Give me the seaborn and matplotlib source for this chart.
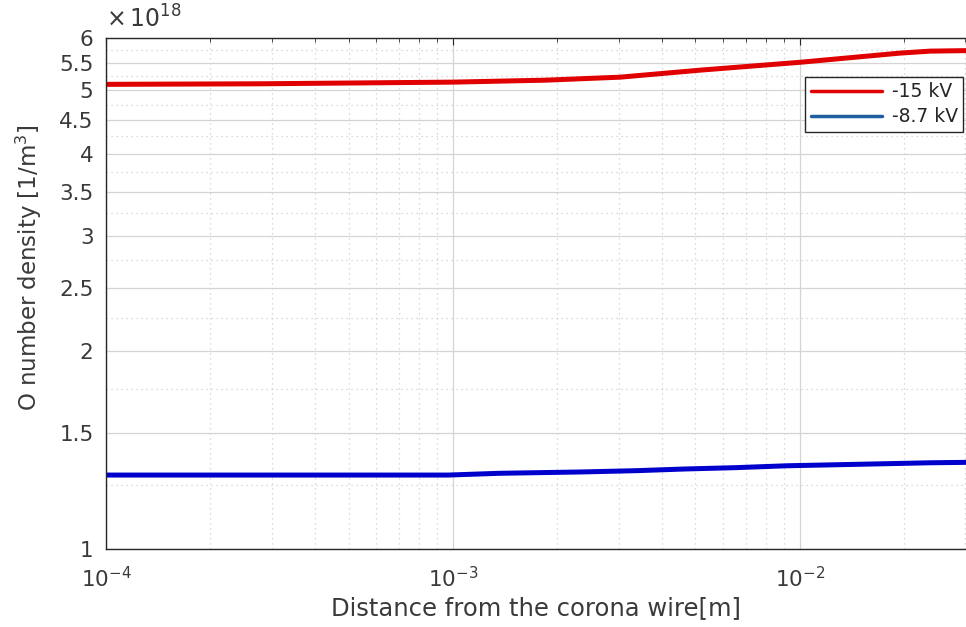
import numpy as np
import pandas as pd
import matplotlib
matplotlib.use("Agg")
import matplotlib.pyplot as plt
import matplotlib.ticker as mticker
import seaborn as sns

# values (x in m, y in 1/m^3)
x_red = [1e-4, 2.78e-4, 1.0e-3, 1.84e-3, 3.03e-3, 5.15e-3, 1.0e-2, 1.94e-2, 2.37e-2, 3.01e-2]
y_red = [5.10e18, 5.11e18, 5.14e18, 5.175e18, 5.23e18, 5.36e18, 5.51e18, 5.69e18, 5.73e18, 5.74e18]

x_blue = [1e-4, 9.7e-4, 1.36e-3, 2.32e-3, 3.37e-3, 4.69e-3, 6.50e-3, 9.23e-3, 1.49e-2, 2.37e-2, 3.01e-2]
y_blue = [1.296e18, 1.296e18, 1.304e18, 1.310e18, 1.316e18, 1.324e18, 1.330e18, 1.339e18, 1.346e18, 1.353e18, 1.355e18]

labels = ["-15 kV", "-8.7 kV"]
y_major = [1, 1.5, 2, 2.5, 3, 3.5, 4, 4.5, 5, 5.5, 6]
y_minor = [1.25, 1.75, 2.25, 2.75, 3.25, 3.75, 4.25, 4.75, 5.25, 5.75]

df = pd.concat([
    pd.DataFrame({"x": x_red, "y": y_red, "series": labels[0]}),
    pd.DataFrame({"x": x_blue, "y": y_blue, "series": labels[1]}),
])

sns.set_style("white")
plt.rcParams["font.family"] = ["DejaVu Sans"]
plt.rcParams["mathtext.default"] = "regular"
plt.rcParams["axes.unicode_minus"] = False

fig = plt.figure(figsize=(9.66, 6.27), dpi=100)
ax = fig.add_axes([106 / 966, 78 / 627, 860 / 966, 511 / 627])
ax.set_xscale("log")
ax.set_yscale("log")

sns.lineplot(data=df, x="x", y="y", hue="series", sort=False, estimator=None,
             palette={labels[0]: "#e00000", labels[1]: "#0000cc"},
             linewidth=3.6, ax=ax)

ax.set_xlim(1e-4, 3.01e-2)
ax.set_ylim(1e18, 6e18)

ax.yaxis.set_major_locator(mticker.FixedLocator([v * 1e18 for v in y_major]))
ax.yaxis.set_minor_locator(mticker.FixedLocator([v * 1e18 for v in y_minor]))
ax.yaxis.set_major_formatter(mticker.FuncFormatter(lambda v, p: f"{v / 1e18:g}"))
ax.yaxis.set_minor_formatter(mticker.NullFormatter())
ax.xaxis.set_major_locator(mticker.LogLocator(base=10))
ax.xaxis.set_minor_locator(mticker.LogLocator(base=10, subs=np.arange(2, 10)))
ax.xaxis.set_minor_formatter(mticker.NullFormatter())

ax.grid(True, which="major", color="#d4d4d4", linewidth=0.9, linestyle="-")
ax.grid(True, which="minor", color="#cfcfcf", linewidth=0.9, linestyle=(0, (1, 3)))
ax.set_axisbelow(True)

ax.tick_params(which="both", direction="in", top=True, right=False,
               colors="#262626", labelcolor="#3a3a3a")
ax.tick_params(which="major", length=5, labelsize=15.5, pad=9)
ax.tick_params(axis="x", which="major", pad=12)
ax.tick_params(which="minor", length=3)
for side in ["left", "bottom", "top"]:
    ax.spines[side].set_color("#262626")
    ax.spines[side].set_linewidth(1.0)
ax.spines["right"].set_visible(False)

ax.set_xlabel("Distance from the corona wire[m]", fontsize=17.5, color="#3a3a3a", labelpad=4)
ax.set_ylabel("O number density [1/m$^3$]", fontsize=16.5, color="#3a3a3a")
ax.yaxis.set_label_coords(-0.072, 0.55)
ax.text(0.0, 1.01, r"$\times\,10^{18}$", transform=ax.transAxes, fontsize=17,
        color="#3a3a3a", ha="left", va="bottom")

handles, _ = ax.get_legend_handles_labels()
leg = ax.legend(handles, labels, loc="upper right", bbox_to_anchor=(0.997, 0.924),
                borderaxespad=0, fontsize=13.5, frameon=True, fancybox=False,
                framealpha=1, edgecolor="#262626", handlelength=3.8,
                labelspacing=0.3, borderpad=0.3, handletextpad=0.5)
leg.get_frame().set_linewidth(1.0)
leg.legend_handles[0].set_color("#e00000")
leg.legend_handles[1].set_color("#1f5f9f")
for h in leg.legend_handles:
    h.set_linewidth(2.5)

fig.savefig("out.png", dpi=100)
